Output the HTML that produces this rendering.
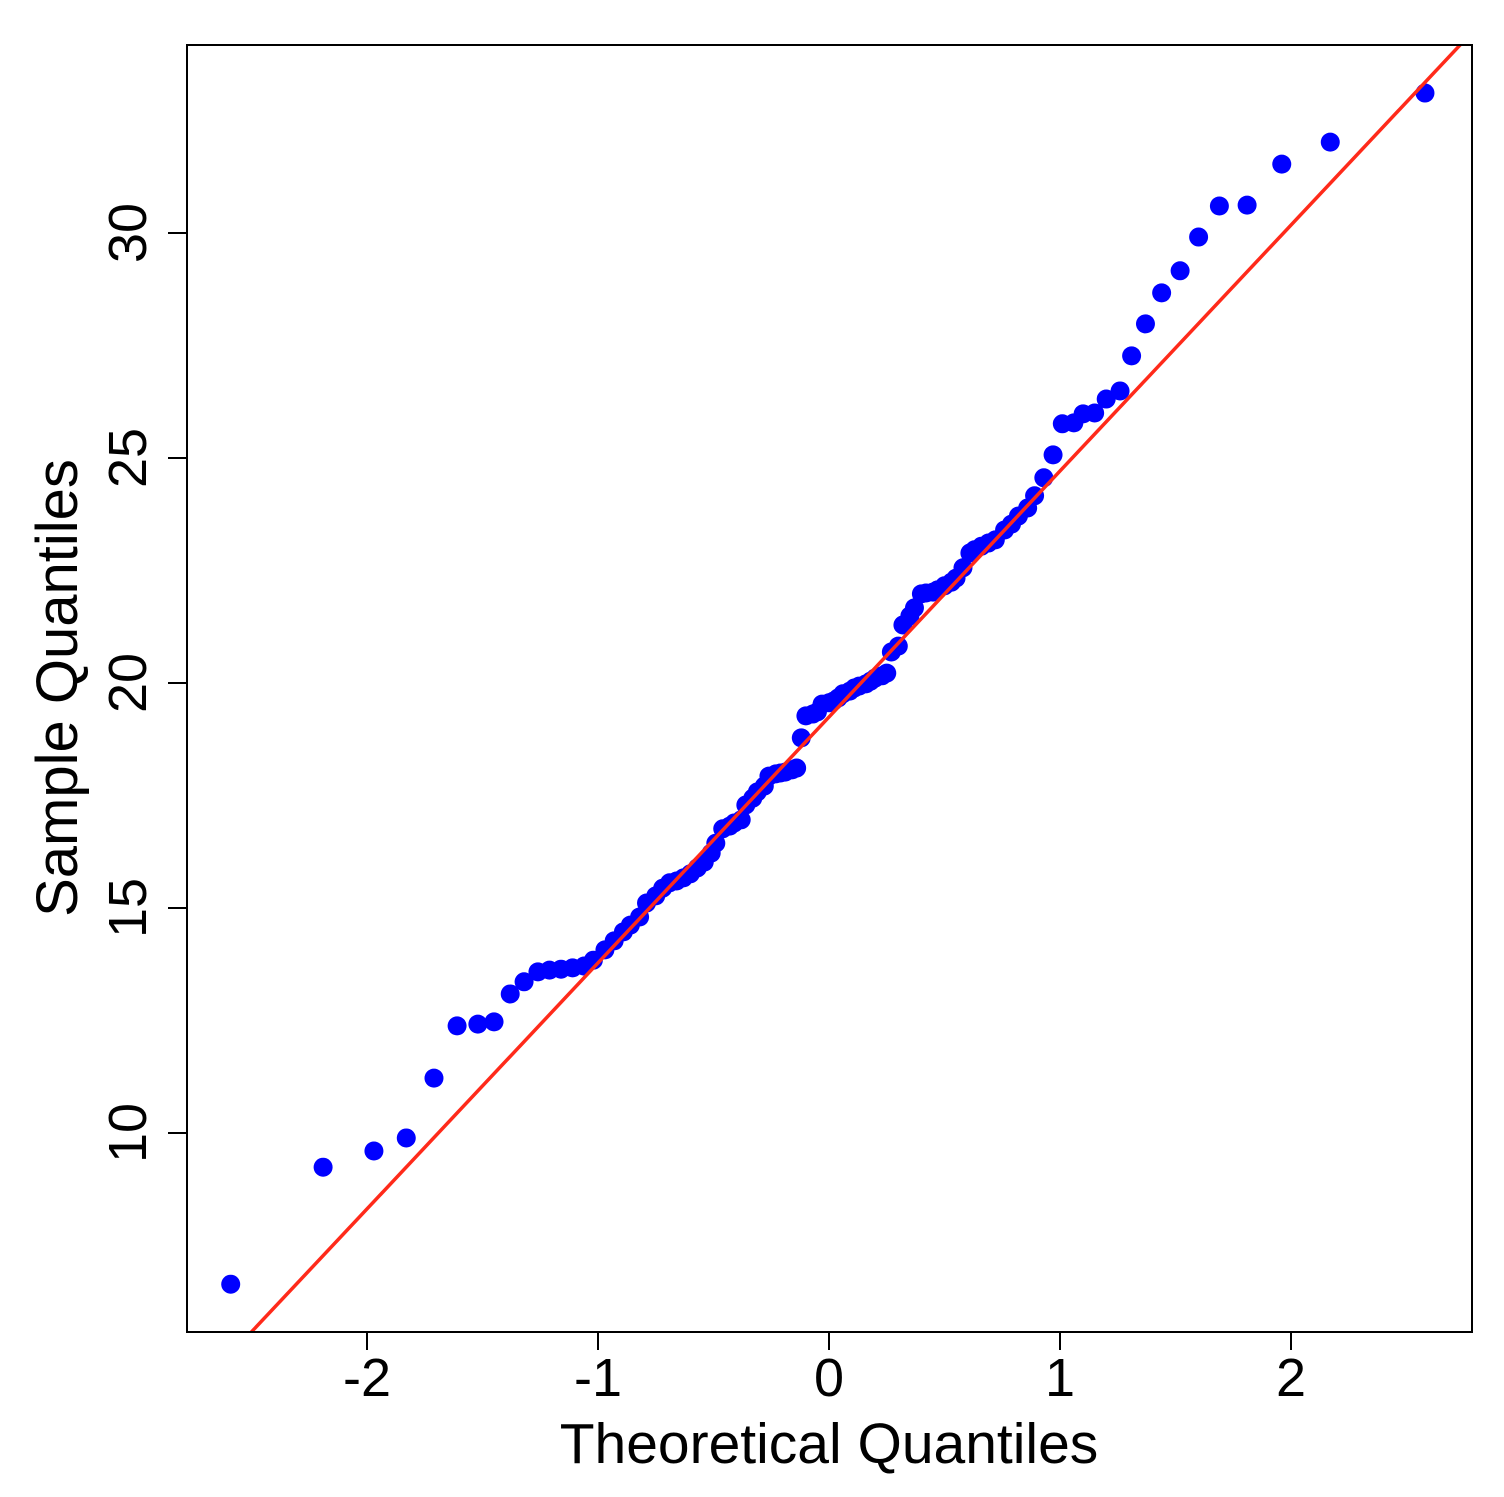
<!DOCTYPE html>
<html><head><meta charset="utf-8"><style>
html,body{margin:0;padding:0;background:#fff;}
svg text{font-family:"Liberation Sans",sans-serif;fill:#000;}
</style></head><body>
<svg id="chart" width="1504" height="1492" viewBox="0 0 1504 1492" xmlns="http://www.w3.org/2000/svg">
<rect x="0" y="0" width="1504" height="1492" fill="#fff"/>
<g id="marks"></g>
<rect x="187" y="45" width="1285" height="1287" fill="none" stroke="#000" stroke-width="2"/>
<g id="axes"></g>
<text x="829" y="1463" font-size="57" text-anchor="middle">Theoretical Quantiles</text>
<text transform="translate(77,688) rotate(-90)" font-size="58" text-anchor="middle">Sample Quantiles</text>
</svg>
<script>
const theoretical = [-2.59,-2.19,-1.97,-1.83,-1.71,-1.61,-1.52,-1.45,-1.38,-1.32,-1.26,-1.21,-1.16,-1.11,-1.06,-1.02,-0.97,-0.93,-0.89,-0.86,-0.82,-0.79,-0.75,-0.72,-0.69,-0.66,-0.63,-0.60,-0.57,-0.54,-0.51,-0.49,-0.46,-0.43,-0.41,-0.38,-0.36,-0.33,-0.31,-0.28,-0.26,-0.23,-0.21,-0.19,-0.16,-0.14,-0.12,-0.10,-0.07,-0.05,-0.03,0.00,0.02,0.04,0.06,0.09,0.11,0.13,0.16,0.18,0.20,0.23,0.25,0.27,0.30,0.32,0.35,0.37,0.40,0.42,0.45,0.47,0.50,0.53,0.55,0.58,0.61,0.63,0.66,0.69,0.72,0.76,0.79,0.82,0.86,0.89,0.93,0.97,1.01,1.06,1.10,1.15,1.20,1.26,1.31,1.37,1.44,1.52,1.60,1.69,1.81,1.96,2.17,2.58];
const sample = [6.64,9.24,9.6,9.89,11.22,12.38,12.42,12.47,13.09,13.36,13.58,13.62,13.64,13.67,13.71,13.84,14.07,14.27,14.47,14.62,14.8,15.11,15.27,15.44,15.56,15.6,15.67,15.76,15.89,16.02,16.22,16.44,16.76,16.82,16.89,16.96,17.29,17.44,17.58,17.71,17.93,17.98,18.0,18.02,18.07,18.11,18.78,19.27,19.31,19.36,19.53,19.56,19.6,19.67,19.76,19.82,19.89,19.93,19.98,20.04,20.11,20.16,20.22,20.69,20.82,21.29,21.49,21.67,21.98,22.0,22.02,22.07,22.16,22.24,22.33,22.56,22.89,22.96,23.04,23.11,23.18,23.4,23.53,23.71,23.89,24.16,24.56,25.07,25.76,25.78,25.98,26.0,26.31,26.49,27.27,27.98,28.67,29.16,29.91,30.6,30.62,31.53,32.02,33.11];
const xTicks = [-2,-1,0,1,2];
const yTicks = [10,15,20,25,30];
const refLine = [19.245, 5.466]; // intercept, slope
const NS="http://www.w3.org/2000/svg";
const xs = v => 829 + v*231;
const ys = v => 683 - (v-20)*45;
const marks=document.getElementById('marks'), axes=document.getElementById('axes');
function mk(tag,attrs,parent){const e=document.createElementNS(NS,tag);for(const k in attrs)e.setAttribute(k,attrs[k]);parent.appendChild(e);return e;}
const defs=mk('defs',{},marks);
const cp=mk('clipPath',{id:'clip'},defs);
mk('rect',{x:187,y:45,width:1285,height:1287},cp);
const g=mk('g',{'clip-path':'url(#clip)'},marks);
theoretical.forEach((t,i)=>{
  const c=mk('circle',{cx:xs(t),cy:ys(sample[i]),r:9.5,fill:'#0000ff'},g);
  
  
});
const x1=-3,x2=3;
const ln=mk('line',{x1:xs(x1),y1:ys(refLine[0]+refLine[1]*x1),x2:xs(x2),y2:ys(refLine[0]+refLine[1]*x2),stroke:'#ff2a1a','stroke-width':3.5},g);


xTicks.forEach(t=>{
  const l=mk('line',{x1:xs(t),x2:xs(t),y1:1332,y2:1350,stroke:'#000','stroke-width':2},axes);
  
  
  const tx=mk('text',{x:xs(t),y:1396,'font-size':54,'text-anchor':'middle'},axes);
  tx.textContent=t<0?'-'+Math.abs(t):String(t);
  
  
});
yTicks.forEach(t=>{
  const l=mk('line',{x1:168,x2:187,y1:ys(t),y2:ys(t),stroke:'#000','stroke-width':2},axes);
  
  
  const tx=mk('text',{transform:`translate(146,${ys(t)}) rotate(-90)`,'font-size':54,'text-anchor':'middle'},axes);
  tx.textContent=String(t);
  
  
});
</script>
</body></html>
